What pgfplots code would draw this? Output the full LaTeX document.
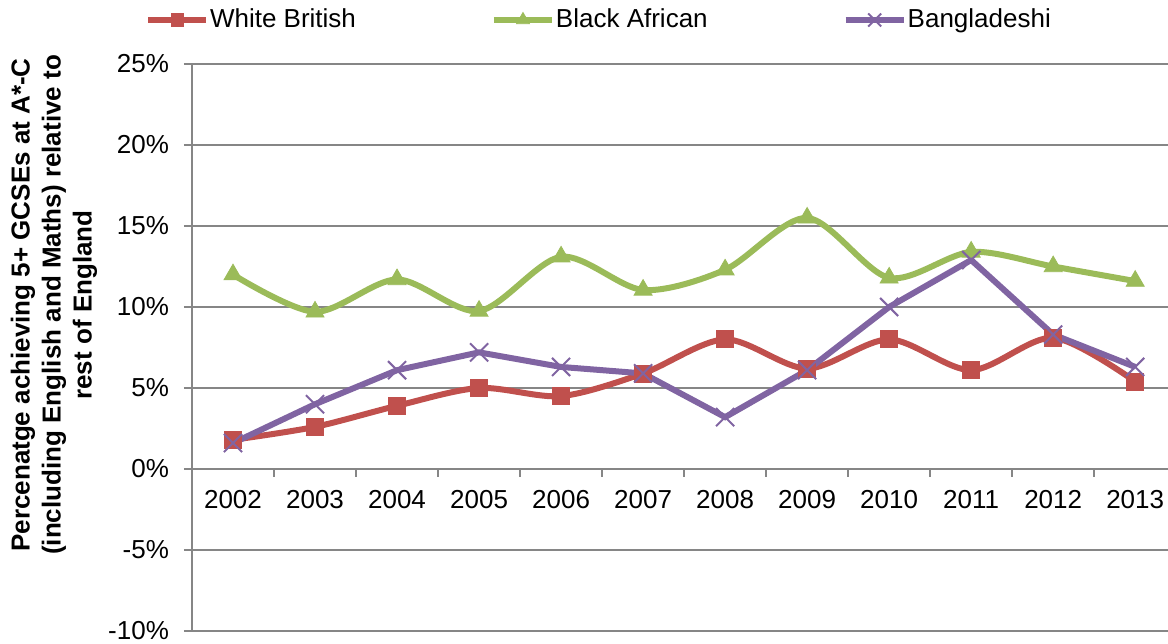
\documentclass[border=0pt]{standalone}
\usepackage{pgfplots}
\pgfplotsset{compat=1.18}
\usepackage{fontspec}
\setmainfont{Liberation Sans}
\definecolor{wbred}{HTML}{C0504D}
\definecolor{bagreen}{HTML}{9BBB59}
\definecolor{bdpurple}{HTML}{8064A2}
\definecolor{axgray}{HTML}{868686}

\begin{document}
\begin{tikzpicture}
\useasboundingbox (-96pt,-6pt) rectangle (488pt,315.5pt);
\begin{axis}[
  scale only axis, width=488pt, height=283.5pt,
  xmin=-0.5, xmax=11.4, ymin=-10, ymax=25,
  axis x line=middle, axis y line=left,
  axis line style={-, draw=axgray, line width=1pt},
  hide obscured x ticks=false, hide obscured y ticks=false,
  tick align=outside,
  xtick={0,1,2,3,4,5,6,7,8,9,10,11},
  xticklabels={2002,2003,2004,2005,2006,2007,2008,2009,2010,2011,2012,2013},
  major x tick style={draw=none},
  minor xtick={-0.5,0.5,1.5,2.5,3.5,4.5,5.5,6.5,7.5,8.5,9.5,10.5},
  minor x tick style={draw=axgray, line width=1pt},
  minor tick length=4pt, major tick length=4pt,
  ytick={-10,-5,0,5,10,15,20,25},
  yticklabels={-10\%,-5\%,0\%,5\%,10\%,15\%,20\%,25\%},
  y tick style={draw=axgray, line width=1pt},
  ymajorgrids, grid style={draw=axgray, line width=1pt},
  tick label style={font=\fontsize{13}{15}\selectfont},
  xticklabel style={yshift=-3pt},
  yticklabel style={xshift=-4pt},
  ylabel={Percenatge achieving 5+ GCSEs at A*-C\\(including English and Maths) relative to\\rest of England},
  ylabel style={font=\bfseries\fontsize{13}{15.5}\selectfont, align=center,
    at={(axis description cs:-0.1414,0.575)}, anchor=center},
  legend columns=3,
  legend style={draw=none, fill=none, inner sep=0pt,
    at={(axis description cs:-0.0485,1.0776)}, anchor=west,
    font=\fontsize{13}{15}\selectfont,
    nodes={inner sep=0.5pt},
    /tikz/every even column/.append style={column sep=67pt}},
  legend image code/.code={
    \draw[#1] (0pt,0pt) -- (29pt,0pt);
    \draw[#1, /tikz/every mark/.append style={scale=0.72}] plot coordinates {(14.5pt,0pt)};
  },
]
\addplot[color=wbred, line width=3pt, smooth, mark=square*, mark size=4.25pt,
  mark options={solid, line width=0.4pt}]
  coordinates {(0,1.8) (1,2.6) (2,3.9) (3,5.0) (4,4.5) (5,5.9) (6,8.0) (7,6.2) (8,8.0) (9,6.1) (10,8.1) (11,5.4)};
\addlegendentry{White British}
\addplot[color=bagreen, line width=3pt, smooth, mark=triangle*, mark size=5.2pt,
  mark options={solid, line width=0.4pt}]
  coordinates {(0,12.0) (1,9.7) (2,11.7) (3,9.75) (4,13.1) (5,11.05) (6,12.3) (7,15.5) (8,11.8) (9,13.4) (10,12.5) (11,11.6)};
\addlegendentry{Black African}
\addplot[color=bdpurple, line width=3pt, mark=x, mark size=6.4pt,
  mark options={solid, line width=1pt}]
  coordinates {(0,1.6) (1,4.0) (2,6.1) (3,7.2) (4,6.3) (5,5.9) (6,3.2) (7,6.1) (8,10.0) (9,12.9) (10,8.3) (11,6.3)};
\addlegendentry{Bangladeshi}
\end{axis}
\end{tikzpicture}
\end{document}
